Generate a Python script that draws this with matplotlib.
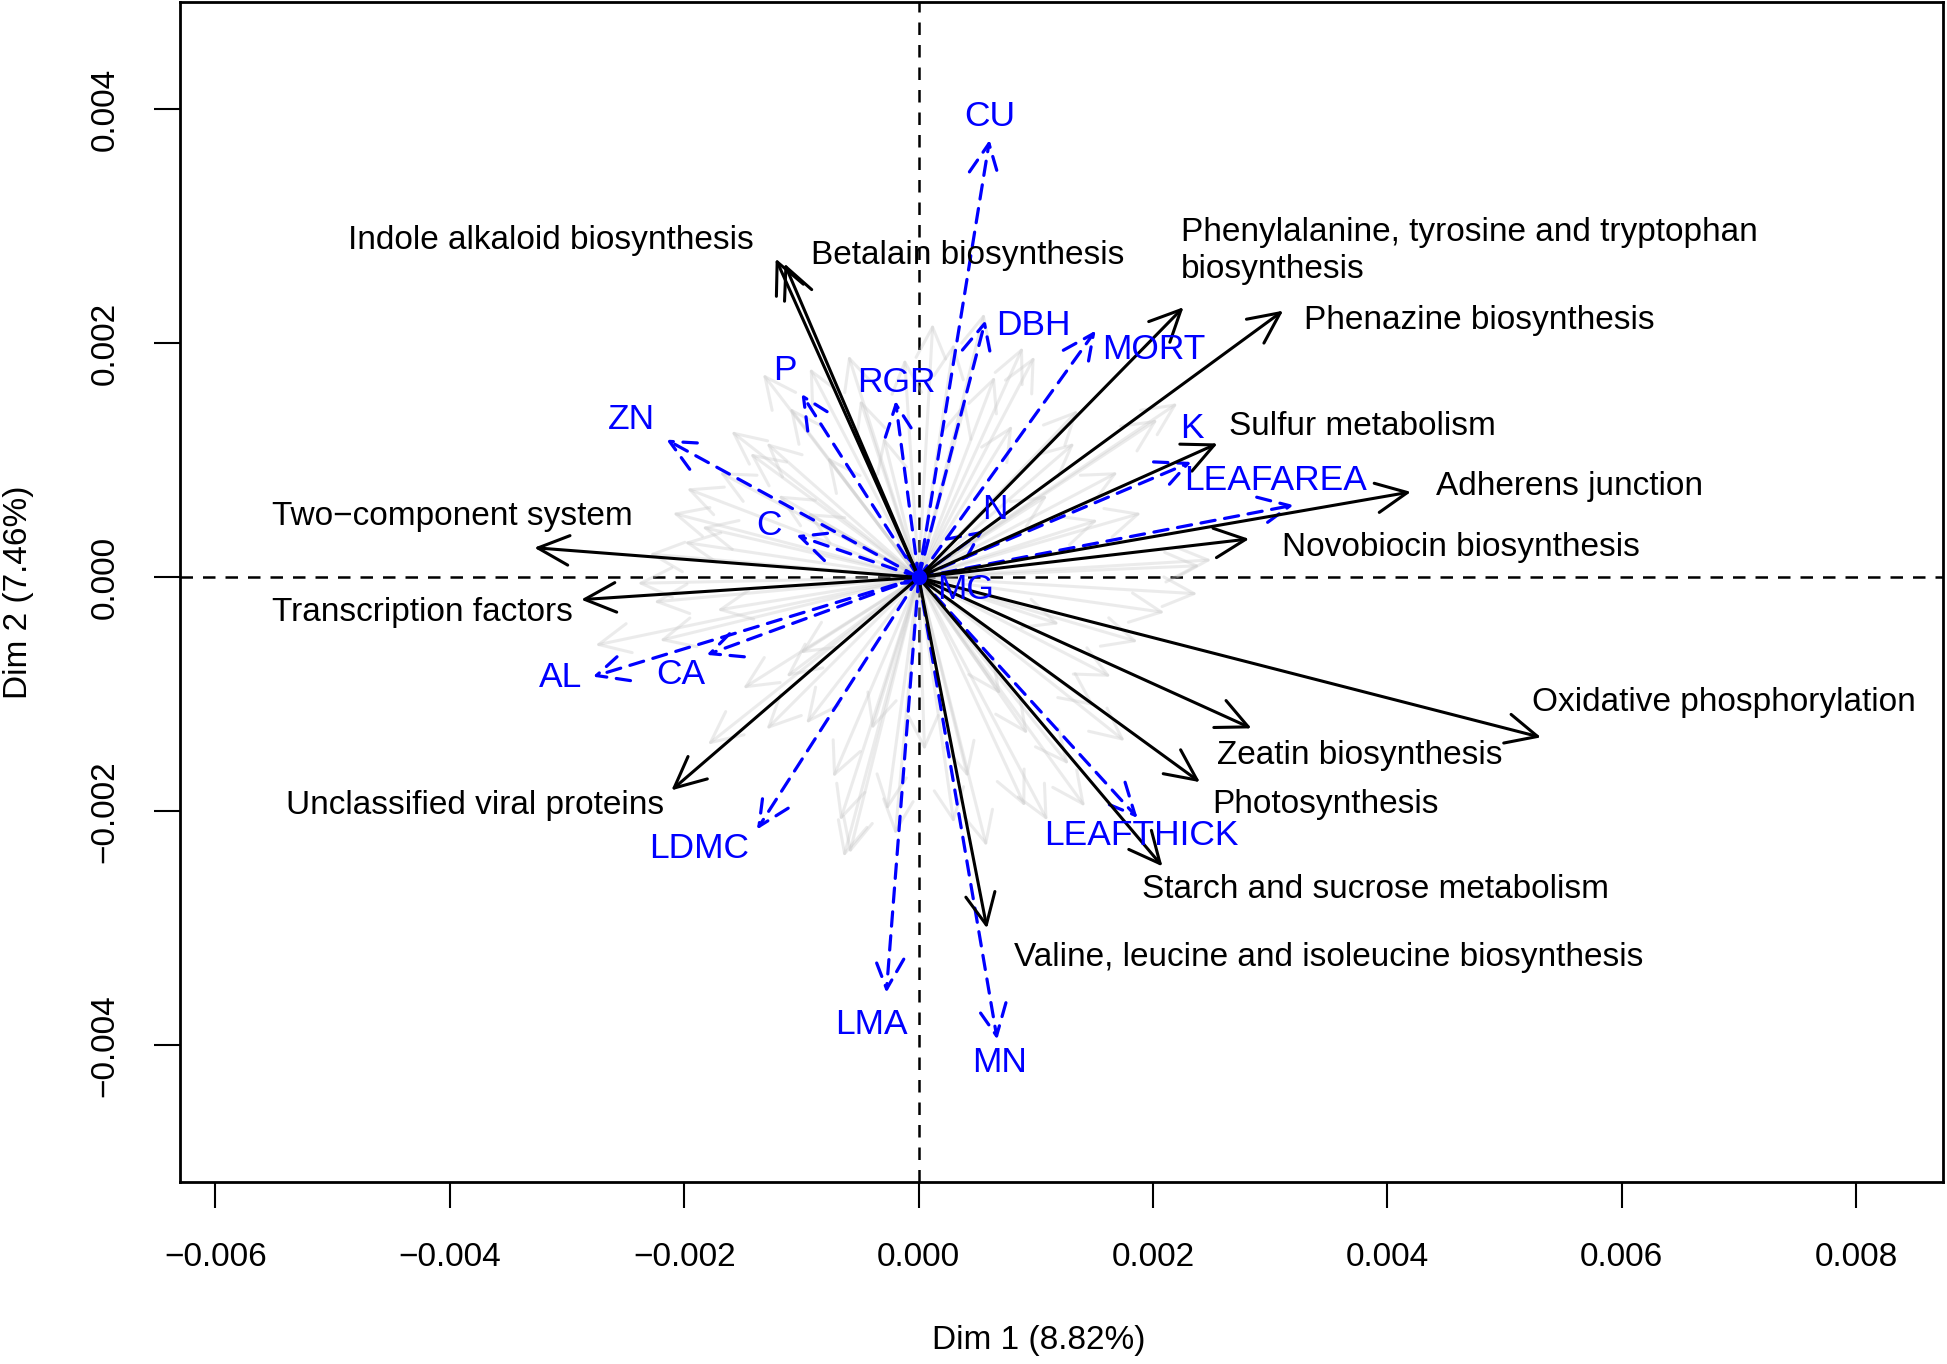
import matplotlib
matplotlib.use("Agg")
import matplotlib.pyplot as plt
import numpy as np

plt.rcParams['font.family'] = ['Liberation Sans', 'DejaVu Sans']

# pathway loadings (black arrows), units of 1e-3
pathways = ["Indole alkaloid biosynthesis", "Betalain biosynthesis",
            "Phenylalanine, tyrosine and tryptophan\nbiosynthesis",
            "Phenazine biosynthesis", "Sulfur metabolism", "Adherens junction",
            "Novobiocin biosynthesis", "Oxidative phosphorylation",
            "Zeatin biosynthesis", "Photosynthesis", "Starch and sucrose metabolism",
            "Valine, leucine and isoleucine biosynthesis", "Unclassified viral proteins",
            "Transcription factors", "Two\u2212component system"]
path_x = [-1.22, -1.145, 2.26, 3.11, 2.55, 4.20, 2.82, 5.31, 2.84, 2.40, 2.08,
          0.583, -2.11, -2.88, -3.28]
path_y = [2.725, 2.683, 2.31, 2.28, 1.145, 0.731, 0.329, -1.367, -1.29, -1.75,
          -2.47, -3.00, -1.82, -0.19, 0.254]

# trait vectors (blue dashed arrows), units of 1e-3
traits = ["CU", "DBH", "MORT", "P", "RGR", "ZN", "C", "K", "LEAFAREA", "N", "MG",
          "AL", "CA", "LDMC", "LMA", "MN", "LEAFTHICK"]
trait_x = [0.605, 0.57, 1.51, -1.00, -0.198, -2.154, -1.044, 2.327, 3.20, 0.55, 0.12,
           -2.78, -1.81, -1.38, -0.276, 0.67, 1.868]
trait_y = [3.74, 2.20, 2.11, 1.57, 1.51, 1.178, 0.361, 0.987, 0.618, 0.40, -0.05,
           -0.848, -0.662, -2.155, -3.55, -3.95, -2.056]

# all other pathway loadings (grey arrows), units of 1e-3
grey_x = [-1.33, -0.93, -1.44, -1.98, -1.85, -1.30, -0.12, -0.50, -0.78, -1.10, -1.60,
          -2.10, -2.30, -1.20, -0.60, -0.30, -1.70, -0.95, -2.00,
          0.12, 0.56, 0.89, 0.99, 0.65, 1.36, 2.21, 2.04, 1.53, 2.50, 1.33, 0.40, 1.70,
          1.10, 2.40, 0.30, 1.90, 0.80,
          2.38, 1.87, 1.64, 1.76, 1.42, 1.10, 0.91, 0.58, 0.42, 0.05, 1.28, 0.93, 2.10,
          1.20, 0.70, 1.50, 0.30,
          -2.26, -1.72, -2.21, -1.01, -1.13, -0.96, -0.73, -0.67, -0.59, -0.27, -2.76,
          -1.80, -0.64, -1.50, -2.40, -0.40, -1.30, -0.20]
grey_y = [1.74, 1.79, 1.06, 0.76, 0.43, 1.15, 1.87, 1.52, 1.03, 1.45, 1.25,
          0.55, 0.20, 0.70, 1.90, 1.20, 0.90, 0.55, 0.30,
          2.17, 2.26, 1.97, 1.89, 1.72, 1.43, 1.49, 1.35, 0.49, 0.15, 1.15, 1.50, 0.90,
          0.70, 0.10, 2.00, 0.55, 1.30,
          -0.14, -0.55, -0.85, -1.40, -1.96, -2.08, -1.96, -2.30, -1.71, -1.48, -1.60,
          -1.34, -0.30, -0.40, -1.00, -1.10, -2.10,
          -0.21, -0.28, -0.54, -0.65, -0.85, -1.25, -1.71, -2.08, -2.36, -1.99, -0.58,
          -1.43, -2.39, -0.95, -0.05, -1.30, -1.30, -2.20]

# label placement (data units of 1e-3): x, y, horizontal alignment
path_lab = [(-1.41, 2.88, 'right'), (-0.923, 2.755, 'left'), (2.238, 2.79, 'left'),
            (3.288, 2.193, 'left'), (2.651, 1.293, 'left'), (4.412, 0.774, 'left'),
            (3.097, 0.254, 'left'), (5.229, -1.07, 'left'), (2.545, -1.526, 'left'),
            (2.503, -1.939, 'left'), (1.909, -2.67, 'left'), (0.817, -3.253, 'left'),
            (-2.174, -1.95, 'right'), (-5.515, -0.297, 'left'), (-5.515, 0.519, 'left')]
trait_lab = [(0.605, 3.942), (0.976, 2.151), (2.004, 1.95), (-1.145, 1.77),
             (-0.191, 1.664), (-2.45, 1.346), (-1.273, 0.445), (2.333, 1.271),
             (3.044, 0.826), (0.647, 0.583), (0.403, -0.106), (-3.054, -0.858),
             (-2.026, -0.826), (-1.877, -2.32), (-0.403, -3.825), (0.689, -4.143),
             (1.898, -2.204)]

s = 1e-3
fig = plt.figure(figsize=(19.47, 13.64), dpi=100)
ax = fig.add_axes([0.0925, 0.1334, 0.9055, 0.8651])
ax.set_xlim(-0.006302, 0.008741)
ax.set_ylim(-0.005168, 0.004918)

fs = 24
head = '->,head_length=0.8,head_width=0.38'

for gx, gy in zip(grey_x, grey_y):
    ax.annotate('', xy=(gx * s, gy * s), xytext=(0, 0),
                arrowprops=dict(arrowstyle=head, color='#c8c8c8', alpha=0.35, lw=2.2,
                                shrinkA=0, shrinkB=0, mutation_scale=28))

ax.axhline(0, color='black', lw=1.8, ls=(0, (5, 4)), zorder=2)
ax.axvline(0, color='black', lw=1.8, ls=(0, (5, 4)), zorder=2)

for tx, ty in zip(trait_x, trait_y):
    ax.annotate('', xy=(tx * s, ty * s), xytext=(0, 0),
                arrowprops=dict(arrowstyle=head, color='#0000ff', lw=2.3, ls=(0, (4.5, 3)),
                                shrinkA=0, shrinkB=0, mutation_scale=28), zorder=3)
for name, (lx, ly) in zip(traits, trait_lab):
    ax.text(lx * s, ly * s, name, color='#0000ff', fontsize=25.5, ha='center', va='center',
            zorder=5)

for px, py in zip(path_x, path_y):
    ax.annotate('', xy=(px * s, py * s), xytext=(0, 0),
                arrowprops=dict(arrowstyle=head, color='black', lw=2.2,
                                shrinkA=0, shrinkB=0, mutation_scale=28), zorder=4)
for name, (lx, ly, ha) in zip(pathways, path_lab):
    ax.text(lx * s, ly * s, name, color='black', fontsize=fs, ha=ha, va='center',
            linespacing=1.25, zorder=5)

ax.plot([0], [0], 'o', color='#0000ff', ms=10, zorder=6)

ticks = np.arange(-0.006, 0.0081, 0.002)
ax.set_xticks(ticks)
ax.set_xticklabels([f"{t:.3f}".replace('-', '\u2212') if abs(t) > 1e-9 else "0.000" for t in ticks])
yt = np.arange(-0.004, 0.0041, 0.002)
ax.set_yticks(yt)
ax.set_yticklabels([f"{t:.3f}".replace('-', '\u2212') if abs(t) > 1e-9 else "0.000" for t in yt],
                   rotation=90, va='center')
ax.tick_params(length=19, width=1.5, labelsize=fs, pad=24)
for sp in ax.spines.values():
    sp.set_linewidth(2)

ax.set_xlabel("Dim 1 (8.82%)", fontsize=fs)
ax.set_ylabel("Dim 2 (7.46%)", fontsize=fs, labelpad=40)
ax.xaxis.set_label_coords(0.487, -0.121)

fig.savefig("out.png", dpi=100)
